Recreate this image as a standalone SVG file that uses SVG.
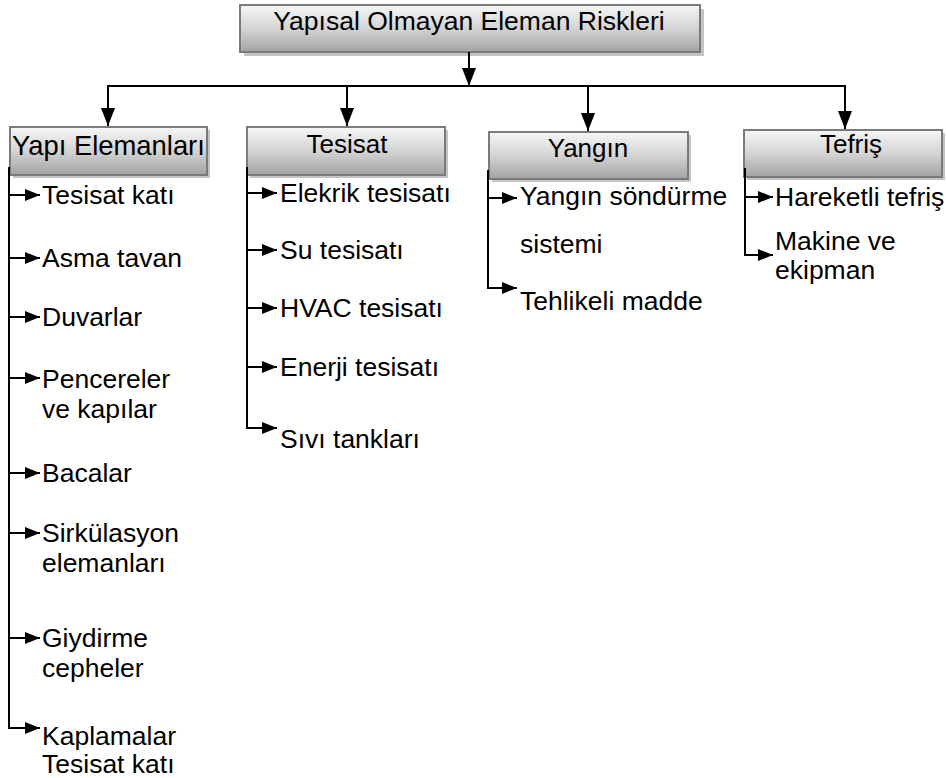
<svg xmlns="http://www.w3.org/2000/svg" width="946" height="778" viewBox="0 0 946 778">
<defs>
<linearGradient id="g" x1="0" y1="0" x2="0" y2="1">
<stop offset="0" stop-color="#f6f6f6"/>
<stop offset="0.5" stop-color="#d4d4d4"/>
<stop offset="1" stop-color="#a2a2a2"/>
</linearGradient>
<marker id="big" markerUnits="userSpaceOnUse" markerWidth="18" markerHeight="16" viewBox="0 0 18 16" refX="18" refY="8" orient="auto">
<path d="M0,1 L18,8 L0,15 Z" fill="#000"/>
</marker>
<marker id="sm" markerUnits="userSpaceOnUse" markerWidth="15" markerHeight="13" viewBox="0 0 15 13" refX="15" refY="6.5" orient="auto">
<path d="M0,0.5 L15,6.5 L0,12.5 Z" fill="#000"/>
</marker>
</defs>
<style>
.shadow{fill:#c4c4c4}
.box{fill:url(#g);stroke:#7a7a7a;stroke-width:2}
.t{font-family:"Liberation Sans",Arial,sans-serif;fill:#000}
.ti{font-size:26.5px}
.h{font-size:26px}
.hy{font-size:27.4px}
.i{font-size:26.5px}
.c{fill:none;stroke:#000;stroke-width:2}
</style>

<g id="root">
<rect class="shadow" x="244" y="9" width="460" height="47"/>
<rect class="box" x="240" y="5" width="460" height="47"/>
<text class="t ti" x="469" y="30" text-anchor="middle">Yapısal Olmayan Eleman Riskleri</text>
</g>

<g id="yapi">
<rect class="shadow" x="13" y="130" width="197" height="48"/>
<rect class="box" x="10" y="127" width="197" height="48"/>
<text class="t hy" x="12" y="155">Yapı Elemanları</text>
</g>
<g id="tesisat">
<rect class="shadow" x="250" y="130" width="198" height="48"/>
<rect class="box" x="247" y="127" width="198" height="48"/>
<text class="t h" x="347" y="153" text-anchor="middle">Tesisat</text>
</g>
<g id="yangin">
<rect class="shadow" x="492" y="135" width="199" height="47"/>
<rect class="box" x="489" y="132" width="199" height="47"/>
<text class="t h" x="588" y="157" text-anchor="middle">Yangın</text>
</g>
<g id="tefris">
<rect class="shadow" x="747" y="133" width="198" height="47"/>
<rect class="box" x="744" y="130" width="198" height="47"/>
<text class="t h" x="851" y="153" text-anchor="middle">Tefriş</text>
</g>

<g id="connectors">
<line class="c" x1="469" y1="52" x2="469" y2="86" marker-end="url(#big)"/>
<line class="c" x1="107" y1="86" x2="846" y2="86"/>
<line class="c" x1="108" y1="86" x2="108" y2="126" marker-end="url(#big)"/>
<line class="c" x1="347" y1="86" x2="347" y2="126" marker-end="url(#big)"/>
<line class="c" x1="588" y1="86" x2="588" y2="131" marker-end="url(#big)"/>
<line class="c" x1="845" y1="86" x2="845" y2="129" marker-end="url(#big)"/>

<path class="c" d="M9,167 V728 H40" marker-end="url(#sm)"/>
<line class="c" x1="9" y1="195" x2="40" y2="195" marker-end="url(#sm)"/>
<line class="c" x1="9" y1="258" x2="40" y2="258" marker-end="url(#sm)"/>
<line class="c" x1="9" y1="317" x2="40" y2="317" marker-end="url(#sm)"/>
<line class="c" x1="9" y1="378" x2="40" y2="378" marker-end="url(#sm)"/>
<line class="c" x1="9" y1="473" x2="40" y2="473" marker-end="url(#sm)"/>
<line class="c" x1="9" y1="533" x2="40" y2="533" marker-end="url(#sm)"/>
<line class="c" x1="9" y1="638" x2="40" y2="638" marker-end="url(#sm)"/>

<path class="c" d="M247,167 V428 H277" marker-end="url(#sm)"/>
<line class="c" x1="247" y1="193" x2="277" y2="193" marker-end="url(#sm)"/>
<line class="c" x1="247" y1="250" x2="277" y2="250" marker-end="url(#sm)"/>
<line class="c" x1="247" y1="308" x2="277" y2="308" marker-end="url(#sm)"/>
<line class="c" x1="247" y1="367" x2="277" y2="367" marker-end="url(#sm)"/>

<path class="c" d="M488,170 V288 H517" marker-end="url(#sm)"/>
<line class="c" x1="488" y1="198" x2="517" y2="198" marker-end="url(#sm)"/>

<path class="c" d="M745,168 V255 H773" marker-end="url(#sm)"/>
<line class="c" x1="745" y1="197" x2="773" y2="197" marker-end="url(#sm)"/>
</g>

<g id="items-yapi">
<text class="t i" x="42" y="204">Tesisat katı</text>
<text class="t i" x="42" y="267">Asma tavan</text>
<text class="t i" x="42" y="326">Duvarlar</text>
<text class="t i" x="42" y="388">Pencereler</text>
<text class="t i" x="42" y="418">ve kapılar</text>
<text class="t i" x="42" y="482">Bacalar</text>
<text class="t i" x="42" y="542">Sirkülasyon</text>
<text class="t i" x="42" y="572">elemanları</text>
<text class="t i" x="42" y="647">Giydirme</text>
<text class="t i" x="42" y="677">cepheler</text>
<text class="t i" x="42" y="745">Kaplamalar</text>
<text class="t i" x="42" y="773">Tesisat katı</text>
</g>
<g id="items-tesisat">
<text class="t i" x="280" y="202">Elekrik tesisatı</text>
<text class="t i" x="280" y="259">Su tesisatı</text>
<text class="t i" x="280" y="317">HVAC tesisatı</text>
<text class="t i" x="280" y="376">Enerji tesisatı</text>
<text class="t i" x="280" y="448">Sıvı tankları</text>
</g>
<g id="items-yangin">
<text class="t i" x="520" y="205">Yangın söndürme</text>
<text class="t i" x="520" y="253">sistemi</text>
<text class="t i" x="520" y="310">Tehlikeli madde</text>
</g>
<g id="items-tefris">
<text class="t i" x="775" y="206">Hareketli tefriş</text>
<text class="t i" x="775" y="250">Makine ve</text>
<text class="t i" x="775" y="279">ekipman</text>
</g>
</svg>
